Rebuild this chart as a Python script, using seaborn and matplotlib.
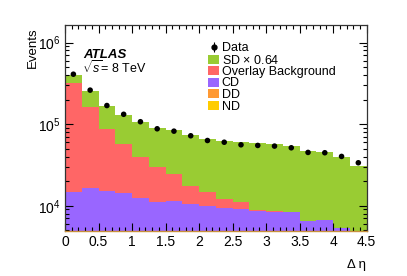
import numpy as np
import pandas as pd
import matplotlib
matplotlib.use("Agg")
import matplotlib.pyplot as plt
from matplotlib.lines import Line2D
from matplotlib.patches import Patch
from matplotlib.legend_handler import HandlerTuple
from matplotlib.ticker import MultipleLocator, LogLocator, LogFormatterMathtext, NullFormatter
import seaborn as sns

# bins in delta eta (0 .. 4.5, width 0.25)
bin_edges = [0, 0.25, 0.5, 0.75, 1.0, 1.25, 1.5, 1.75, 2.0, 2.25,
             2.5, 2.75, 3.0, 3.25, 3.5, 3.75, 4.0, 4.25, 4.5]
bin_centers = [0.125, 0.375, 0.625, 0.875, 1.125, 1.375, 1.625, 1.875, 2.125,
               2.375, 2.625, 2.875, 3.125, 3.375, 3.625, 3.875, 4.125, 4.375]

# stacked components (events per bin)
sd_scaled = [85000, 94000, 81300, 74100, 67600, 60500, 60300, 55400, 50300,
             49900, 48500, 49200, 47700, 45800, 40150, 39050, 34350, 26050]
overlay_bkg = [300200, 143400, 72400, 42600, 26800, 18300, 13300, 7100, 4600,
               2500, 2000, 150, 150, 120, 50, 50, 50, 50]
cd = [14300, 16100, 14800, 13800, 12100, 10700, 10900, 10000, 9600,
      9100, 8700, 8250, 8150, 7950, 6100, 6300, 5050, 4200]
dd = [350, 350, 340, 330, 320, 310, 300, 290, 280,
      270, 260, 250, 240, 230, 220, 210, 200, 190]
nd = [150, 150, 140, 140, 130, 130, 120, 120, 110,
      110, 100, 100, 100, 90, 90, 90, 80, 80]
data = [409000, 261000, 169000, 132000, 107000, 87700, 82000, 72000, 63000,
        60000, 55800, 54800, 53800, 51300, 45000, 44600, 40200, 33600]

labels = ["SD $\\times$ 0.64", "Overlay Background", "CD", "DD", "ND"]
colors = ["#99cc33", "#ff6666", "#9966ff", "#ff9933", "#ffcc00"]

df = pd.DataFrame({
    "deta": bin_centers * 5,
    "events": sd_scaled + overlay_bkg + cd + dd + nd,
    "comp": sum([[l] * len(bin_centers) for l in labels], []),
})

plt.rcParams["font.family"] = ["Liberation Sans", "DejaVu Sans"]
plt.rcParams["mathtext.fontset"] = "custom"
plt.rcParams["mathtext.rm"] = "Liberation Sans"
plt.rcParams["mathtext.it"] = "Liberation Sans:italic"

fig = plt.figure(figsize=(4.07, 2.76), dpi=100)
ax = fig.add_axes([65 / 407, 1 - 231 / 276, (366.7 - 65) / 407, (231 - 25) / 276])
ax.set_yscale("log")

sns.histplot(data=df, x="deta", weights="events", hue="comp", hue_order=labels,
             palette=colors, multiple="stack", bins=bin_edges, element="step",
             fill=True, alpha=1, linewidth=0, legend=False, ax=ax)
sns.scatterplot(x=bin_centers, y=data, color="black", s=16, edgecolor="none",
                ax=ax, zorder=5)

ax.set_xlim(0, 4.5)
ax.set_ylim(4900, 1.64e6)
ax.set_xlabel("")
ax.set_ylabel("")

ax.xaxis.set_major_locator(MultipleLocator(0.5))
ax.xaxis.set_minor_locator(MultipleLocator(0.1))
ax.yaxis.set_major_locator(LogLocator(base=10))
ax.yaxis.set_minor_locator(LogLocator(base=10, subs=np.arange(2, 10)))
ax.yaxis.set_major_formatter(LogFormatterMathtext())
ax.yaxis.set_minor_formatter(NullFormatter())
ax.xaxis.set_major_formatter(matplotlib.ticker.FuncFormatter(lambda v, p: f"{v:g}"))
ax.tick_params(which="both", direction="in", top=True, right=True,
               labelsize=10, color="black", width=0.8)
ax.tick_params(which="major", length=6, pad=3)
ax.tick_params(which="minor", length=3)
for s in ["left", "top", "right"]:
    ax.spines[s].set_linewidth(0.9)
    ax.spines[s].set_color("#333333")
ax.spines["bottom"].set_color("#c8903c")
ax.spines["bottom"].set_linewidth(1.0)

fig.text(33 / 407, 1 - 27 / 276, "Events", rotation=90, ha="center", va="top", fontsize=9.5)
fig.text(366 / 407, 1 - 265 / 276, "Δ η", ha="right", va="center", fontsize=9.5)
fig.text(83 / 407, 1 - 55 / 276, "ATLAS", fontsize=9.5, fontweight="bold",
         fontstyle="italic", va="center")
fig.text(82 / 407, 1 - 68 / 276, "$\\sqrt{s}$= 8 TeV", fontsize=9, va="center")

data_handle = (Line2D([], [], marker="o", color="black", ls="none", ms=3.5),
               Line2D([], [], marker="|", color="black", ls="none", ms=7, mew=0.8))
handles = [data_handle] + [Patch(facecolor=c, edgecolor="none") for c in colors]
fig.legend(handles, ["Data"] + labels, loc="upper left",
           bbox_to_anchor=(208 / 407, 1 - 42 / 276), bbox_transform=fig.transFigure,
           frameon=False, fontsize=9, borderpad=0, borderaxespad=0,
           handlelength=0.9, handleheight=0.75, handletextpad=0.2,
           labelspacing=-0.04, handler_map={tuple: HandlerTuple(ndivide=1)})

fig.savefig("out.png", dpi=100)
